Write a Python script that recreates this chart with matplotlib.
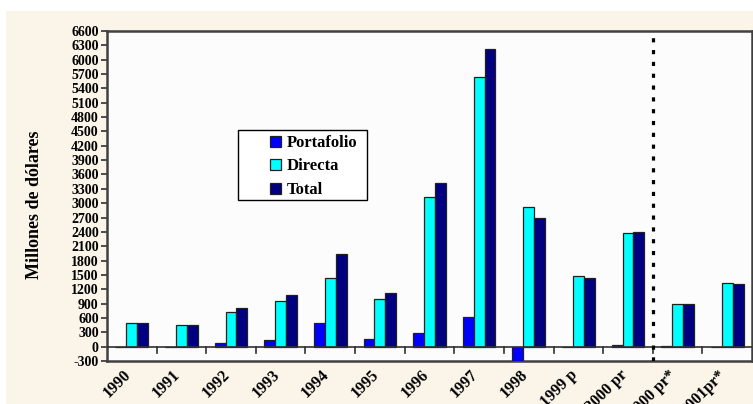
import matplotlib.pyplot as plt
import numpy as np
from matplotlib.patches import Rectangle
from matplotlib.transforms import blended_transform_factory, ScaledTranslation

# Data (millones de dolares)
years = ['1990', '1991', '1992', '1993', '1994', '1995', '1996', '1997', '1998',
         '1999 p', '2000 pr', '2000 pr*', '2001pr*']
portafolio = [0, 0, 80, 145, 490, 165, 290, 610, -300, 0, 25, 20, 0]
directa = [500, 450, 715, 950, 1440, 990, 3125, 5640, 2925, 1470, 2375, 890, 1330]
total = [505, 450, 805, 1090, 1940, 1125, 3420, 6225, 2695, 1440, 2400, 890, 1300]
yticks = np.arange(-300, 6601, 300)

colors = ['#0000FF', '#00FFFF', '#000080']
series_names = ['Portafolio', 'Directa', 'Total']
series = [portafolio, directa, total]

serif = 'Liberation Serif'

fig = plt.figure(figsize=(7.53, 4.04), dpi=100)
fig.patch.set_facecolor('white')
# beige chart area
bg = fig.add_axes([6/753, 0, 1 - 6/753, 1 - 11/404])
bg.set_facecolor('#FBF4E8')
bg.set_xticks([])
bg.set_yticks([])
for s in bg.spines.values():
    s.set_visible(False)

ax = fig.add_axes([107/753, 43/404, 645/753, 330/404])
ax.set_facecolor('#FCFCFC')

x = np.arange(len(years))
w = 0.22
for i, (vals, c, name) in enumerate(zip(series, colors, series_names)):
    ax.bar(x + (i - 1) * w, vals, width=w, color=c, edgecolor='#202020',
           linewidth=0.9, label=name, zorder=3)

ax.set_xlim(-0.5, len(years) - 0.5)
ax.set_ylim(-300, 6600)

# zero axis line with ticks at category boundaries
ax.axhline(0, color='#303030', linewidth=1.2, zorder=4)
bounds = np.arange(0.5, len(years) - 0.5, 1.0)
for b in bounds:
    ax.plot([b, b], [0, -130], color='#303030', linewidth=1.2, zorder=4)

ax.set_xticks([])
ax.set_yticks(yticks)
ax.set_yticklabels([str(v) for v in yticks], fontsize=10, fontweight='bold',
                   family=serif)
ax.tick_params(axis='y', direction='out', length=4, width=1.2, color='#303030', pad=2)

for s in ax.spines.values():
    s.set_color('#404040')
    s.set_linewidth(1.8)

# dotted separator for forecasts
ax.axvline(10.5, color='black', linewidth=2.3, linestyle=(0, (1.3, 2.4)),
           dash_capstyle='butt', zorder=5)

# rotated category labels
trans = blended_transform_factory(ax.transData, ax.transAxes)
off = ScaledTranslation(-9/100, -6/100, fig.dpi_scale_trans)
for xi, lab in zip(x, years):
    ax.text(xi, 0, lab, transform=trans + off, rotation=45, ha='right', va='top',
            rotation_mode='anchor', fontsize=11.5, fontweight='bold', family=serif)

ax.set_ylabel('Millones de dólares', fontsize=13, fontweight='bold', family=serif)
ax.yaxis.set_label_coords(-64/645, 156/330)

# legend box
ax.add_patch(Rectangle((131/645, 161/330), 129/645, 70/330, transform=ax.transAxes,
                       facecolor='white', edgecolor='black', linewidth=1.0, zorder=6))
leg = ax.legend(loc='upper left', bbox_to_anchor=(163/645, 226/330),
                prop={'family': serif, 'weight': 'bold', 'size': 12},
                frameon=False, borderpad=0, handlelength=0.65, handleheight=0.65,
                handletextpad=0.35, labelspacing=0.45, borderaxespad=0)
leg.set_zorder(7)

plt.savefig('out.png', dpi=100)
